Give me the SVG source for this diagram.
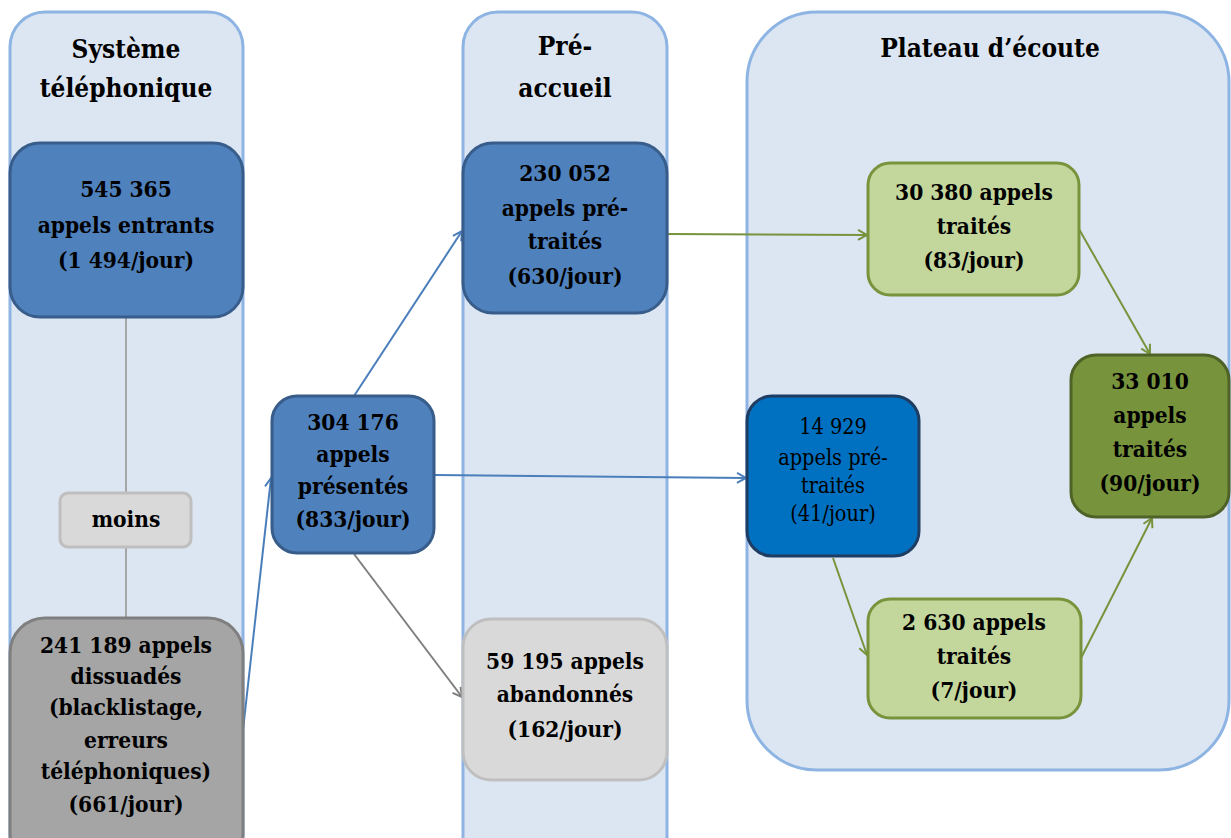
<svg xmlns="http://www.w3.org/2000/svg" width="1231" height="838" viewBox="0 0 1231 838">
<style>
.t{font-family:'DejaVu Serif Condensed','DejaVu Serif',serif;font-stretch:condensed;font-weight:bold;fill:#000;text-anchor:middle}
.h{font-size:26px}
.n{font-size:22.5px}
.r{font-weight:normal;font-size:21.5px}
.cont{fill:#dce6f2;stroke:#8eb4e3;stroke-width:3}
.blue{fill:#4f81bd;stroke:#385d8a;stroke-width:3}
.gray{fill:#a5a5a5;stroke:#7f7f7f;stroke-width:3}
.lgray{fill:#d9d9d9;stroke:#bfbfbf;stroke-width:3}
.lgreen{fill:#c3d69b;stroke:#77933c;stroke-width:3}
.dgreen{fill:#77933c;stroke:#4f6228;stroke-width:3}
.dblue{fill:#0070c0;stroke:#1f3d63;stroke-width:3}
.cb{stroke:#4a7ebb;stroke-width:2;fill:none}
.cg{stroke:#7f7f7f;stroke-width:2;fill:none}
.cgr{stroke:#77933c;stroke-width:2;fill:none}
</style>
<defs>
<marker id="ab" markerWidth="12" markerHeight="12" refX="10" refY="6" orient="auto" markerUnits="userSpaceOnUse"><path d="M1,1 L10,6 L1,11" fill="none" stroke="#4a7ebb" stroke-width="2"/></marker>
<marker id="ag" markerWidth="12" markerHeight="12" refX="10" refY="6" orient="auto" markerUnits="userSpaceOnUse"><path d="M1,1 L10,6 L1,11" fill="none" stroke="#7f7f7f" stroke-width="2"/></marker>
<marker id="agr" markerWidth="12" markerHeight="12" refX="10" refY="6" orient="auto" markerUnits="userSpaceOnUse"><path d="M1,1 L10,6 L1,11" fill="none" stroke="#77933c" stroke-width="2"/></marker>
</defs>
<rect width="1231" height="838" fill="#fff"/>
<g id="c-systeme">
<rect class="cont" x="10" y="12" width="233" height="860" rx="35"/>
<text class="t h" x="126" y="58">Système</text>
<text class="t h" x="126" y="97">téléphonique</text>
</g>
<g id="c-preaccueil">
<rect class="cont" x="463" y="12" width="204" height="860" rx="35"/>
<text class="t h" x="565" y="55">Pré-</text>
<text class="t h" x="565" y="97">accueil</text>
</g>
<g id="c-plateau">
<rect class="cont" x="747" y="12" width="482" height="758" rx="70"/>
<text class="t h" x="990" y="57">Plateau d’écoute</text>
</g>
<g id="connectors">
<line x1="126" y1="317" x2="126" y2="493" stroke="#a6a6a6" stroke-width="2"/>
<line x1="126" y1="547" x2="126" y2="618" stroke="#a6a6a6" stroke-width="2"/>
<line class="cb" x1="243" y1="730" x2="271" y2="478" marker-end="url(#ab)"/>
<line class="cb" x1="354" y1="396" x2="462" y2="231" marker-end="url(#ab)"/>
<line class="cb" x1="434" y1="475" x2="746" y2="478" marker-end="url(#ab)"/>
<line class="cg" x1="354" y1="554" x2="462" y2="697" marker-end="url(#ag)"/>
<line class="cgr" x1="667" y1="234" x2="867" y2="235" marker-end="url(#agr)"/>
<line class="cgr" x1="1079" y1="229" x2="1150" y2="354" marker-end="url(#agr)"/>
<line class="cgr" x1="833" y1="558" x2="867" y2="655" marker-end="url(#agr)"/>
<line class="cgr" x1="1081" y1="658" x2="1152" y2="518" marker-end="url(#agr)"/>
</g>
<g id="n-entrants">
<rect class="blue" x="10" y="143" width="233" height="174" rx="30"/>
<text class="t n" x="126" y="197">545 365</text>
<text class="t n" x="126" y="233">appels entrants</text>
<text class="t n" x="126" y="268">(1 494/jour)</text>
</g>
<g id="n-moins">
<rect class="lgray" x="60" y="493" width="131" height="54" rx="8"/>
<text class="t n" x="126" y="527">moins</text>
</g>
<g id="n-dissuades">
<rect class="gray" x="10" y="618" width="233" height="250" rx="35"/>
<text class="t n" x="126" y="653">241 189 appels</text>
<text class="t n" x="126" y="684">dissuadés</text>
<text class="t n" x="126" y="715">(blacklistage,</text>
<text class="t n" x="126" y="748">erreurs</text>
<text class="t n" x="126" y="779">téléphoniques)</text>
<text class="t n" x="126" y="812">(661/jour)</text>
</g>
<g id="n-presentes">
<rect class="blue" x="272" y="396" width="162" height="157" rx="25"/>
<text class="t n" x="353" y="430">304 176</text>
<text class="t n" x="353" y="462">appels</text>
<text class="t n" x="353" y="494">présentés</text>
<text class="t n" x="353" y="527">(833/jour)</text>
</g>
<g id="n-pretraites">
<rect class="blue" x="463" y="143" width="204" height="170" rx="30"/>
<text class="t n" x="565" y="181">230 052</text>
<text class="t n" x="565" y="216">appels pré-</text>
<text class="t n" x="565" y="249">traités</text>
<text class="t n" x="565" y="284">(630/jour)</text>
</g>
<g id="n-abandonnes">
<rect class="lgray" x="463" y="619" width="204" height="161" rx="28"/>
<text class="t n" x="565" y="669">59 195 appels</text>
<text class="t n" x="565" y="702">abandonnés</text>
<text class="t n" x="565" y="737">(162/jour)</text>
</g>
<g id="n-traites30380">
<rect class="lgreen" x="868" y="163" width="211" height="132" rx="22"/>
<text class="t n" x="974" y="200">30 380 appels</text>
<text class="t n" x="974" y="234">traités</text>
<text class="t n" x="974" y="268">(83/jour)</text>
</g>
<g id="n-pretraites14929">
<rect class="dblue" x="747" y="396" width="172" height="160" rx="25"/>
<text class="t r" x="833" y="434">14 929</text>
<text class="t r" x="833" y="465">appels pré-</text>
<text class="t r" x="833" y="493">traités</text>
<text class="t r" x="833" y="521">(41/jour)</text>
</g>
<g id="n-traites33010">
<rect class="dgreen" x="1071" y="355" width="158" height="162" rx="25"/>
<text class="t n" x="1150" y="389">33 010</text>
<text class="t n" x="1150" y="423">appels</text>
<text class="t n" x="1150" y="457">traités</text>
<text class="t n" x="1150" y="491">(90/jour)</text>
</g>
<g id="n-traites2630">
<rect class="lgreen" x="868" y="599" width="213" height="119" rx="22"/>
<text class="t n" x="974" y="630">2 630  appels</text>
<text class="t n" x="974" y="664">traités</text>
<text class="t n" x="974" y="698">(7/jour)</text>
</g>
</svg>
